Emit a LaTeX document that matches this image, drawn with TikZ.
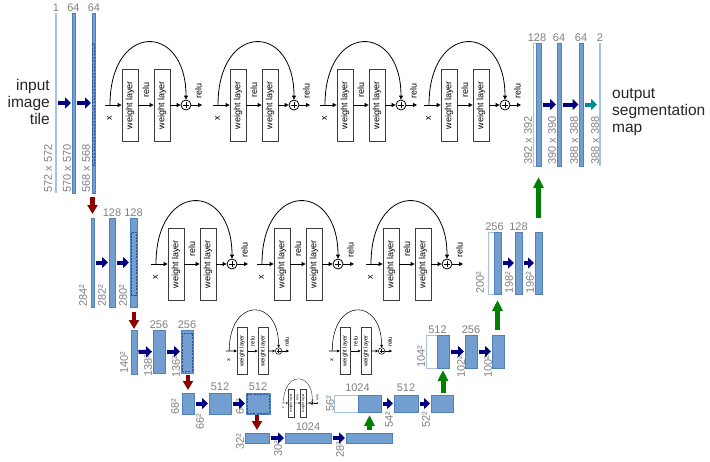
\documentclass[tikz,border=0pt]{standalone}
\usepackage{fontspec}
\setmainfont{Liberation Sans}
\usetikzlibrary{arrows.meta,calc}
\definecolor{barblue}{RGB}{114,159,207}
\definecolor{barline}{RGB}{79,129,189}
\definecolor{lightbar}{RGB}{165,193,228}
\definecolor{dashblue}{RGB}{40,80,150}
\definecolor{navyarr}{RGB}{0,0,128}
\definecolor{redarr}{RGB}{140,0,0}
\definecolor{greenarr}{RGB}{0,128,0}
\definecolor{tealarr}{RGB}{0,140,140}
\definecolor{lblgray}{RGB}{128,128,128}
\definecolor{boxline}{RGB}{60,60,60}
\tikzset{
 fmbar/.style={draw=barline, fill=barblue, line width=0.6pt, inner sep=0, outer sep=0, rectangle},
 fmwhite/.style={draw=lightbar, fill=white, line width=0.8pt, inner sep=0, outer sep=0, rectangle},
 fmthin/.style={draw=none, fill=lightbar, inner sep=0, outer sep=0, rectangle},
 fmdash/.style={draw=dashblue, dash pattern=on 2pt off 1.2pt, line width=1pt, inner sep=0, outer sep=0, rectangle},
 harr/.style={navyarr, line width=4pt, -{Triangle[length=6pt,width=11pt]}, shorten <=1.5pt, shorten >=1pt},
 tarr/.style={tealarr, line width=4pt, -{Triangle[length=6pt,width=11pt]}, shorten <=1.5pt, shorten >=2pt},
 darr/.style={redarr, line width=4.5pt, -{Triangle[length=9pt,width=10pt]}},
 garr/.style={greenarr, line width=5pt, -{Triangle[length=11pt,width=10pt]}},
 numlbl/.style={text=lblgray, font=\fontsize{11}{12}\selectfont, inner sep=0},
 sidelbl/.style={numlbl, rotate=90, anchor=west},
 toplbl/.style={numlbl, anchor=base},
 bigtxt/.style={text=black!85, font=\fontsize{15.5}{17}\selectfont, inner sep=0},
}
\newcommand\fmap[6][fmbar]{%
 \pgfmathsetmacro\fmw{#5-#3}%
 \pgfmathsetmacro\fmh{#6-#4}%
 \node[#1, minimum width=\fmw pt, minimum height=\fmh pt] (#2) at ({(#3+#5)/2},{(#4+#6)/2}) {};}
\newcommand\resblk[4]{%
\begin{scope}[shift={(#2,#3)}, scale=#4, transform shape]
 \pgfmathsetmacro\rslw{0.8*#4}%
 \pgfmathsetmacro\rssh{2.2*#4}%
 \tikzset{
  rs/.style={draw=black, line width=\rslw pt, -{Triangle[length=4pt,width=4pt,scale=#4]}},
  rsp/.style={draw=black, line width=\rslw pt, shorten <=\rssh pt, shorten >=\rssh pt},
  wl/.style={draw=boxline, rectangle, rotate=90, minimum width=72pt, minimum height=16pt, inner sep=0, line width=\rslw pt, font=\fontsize{9}{10}\selectfont},
  plusc/.style={circle, draw=black, minimum size=10pt, inner sep=0, line width=\rslw pt},
  rl/.style={rotate=90, inner sep=0, font=\fontsize{9}{10}\selectfont}}
 \coordinate (#1i) at (-17,0);
 \coordinate (#1b) at (-12,0);
 \node[wl] (#1w1) at (8,0) {weight layer};
 \node[wl] (#1w2) at (40,0) {weight layer};
 \node[plusc] (#1p) at (64,0) {};
 \coordinate (#1o) at (80,0);
 \node[rl] (#1r1) at (24,-15) {relu};
 \node[rl] (#1r2) at (76.5,-14) {relu};
 \node[rl] (#1x) at (-12.5,13.5) {x};
 \draw[rs] (#1i) -- (#1w1);
 \draw[rs] (#1w1) -- (#1w2);
 \draw[rs] (#1w2) -- (#1p);
 \draw[rs] (#1p) -- (#1o);
 \draw[rs] (#1b) .. controls (-12,-83) and (64,-83) .. (#1p.north);
 \draw[rsp] (#1p.north) -- (#1p.south);
 \draw[rsp] (#1p.west) -- (#1p.east);
\end{scope}}
\begin{document}
\begin{tikzpicture}[x=1pt,y=-1pt]
\useasboundingbox (0,0) rectangle (710,461);
% ---------- texts
\node[bigtxt, align=right, anchor=east] (inp) at (50,102) {input\\image\\tile};
\node[bigtxt, align=left, anchor=west] (outp) at (612,112) {output\\segmentation\\map};
% ---------- top left
\fmap[fmthin]{t1}{54.5}{13}{56.5}{193}
\fmap{t2}{72}{13}{75.5}{193}
\fmap{t3}{92}{13}{95.5}{193}
\fmap[fmdash]{t3d}{92.6}{43}{94.9}{165}
\node[toplbl] (nt1) at (56,11) {1};
\node[toplbl] (nt2) at (73.5,11) {64};
\node[toplbl] (nt3) at (94,11) {64};
\node[sidelbl] (st1) at (48,193) {572 x 572};
\node[sidelbl] (st2) at (67,193) {570 x 570};
\node[sidelbl] (st3) at (86,193) {568 x 568};
\draw[harr] (t1) -- (t2);
\draw[harr] (t2) -- (t3);
% ---------- top right
\fmap[fmwhite]{o1w}{533}{43}{536}{166}
\fmap{o1}{536}{43}{541}{166}
\fmap{o2}{557}{43}{561}{166}
\fmap{o3}{579.5}{43}{583}{166}
\fmap[fmthin]{o4}{599}{43}{601}{166}
\node[toplbl] (no1) at (537,41) {128};
\node[toplbl] (no2) at (559,41) {64};
\node[toplbl] (no3) at (581,41) {64};
\node[toplbl] (no4) at (600,41) {2};
\node[sidelbl] (so1) at (528,165) {392 x 392};
\node[sidelbl] (so2) at (552,165) {390 x 390};
\node[sidelbl] (so3) at (574,165) {388 x 388};
\node[sidelbl] (so4) at (595,165) {388 x 388};
\draw[harr] (o1) -- (o2);
\draw[harr] (o2) -- (o3);
\draw[tarr] (o3) -- (o4);
% ---------- row 2 left
\fmap{a1}{91}{218}{94}{307}
\fmap{a2}{109}{218}{115}{307}
\fmap{a3}{130}{218}{137}{307}
\fmap[fmdash]{a3d}{131}{232}{136}{295}
\node[toplbl] (na2) at (112,216) {128};
\node[toplbl] (na3) at (133.5,216) {128};
\node[sidelbl] (sa1) at (83,307) {284²};
\node[sidelbl] (sa2) at (102,307) {282²};
\node[sidelbl] (sa3) at (123,307) {280²};
\draw[harr] (a1) -- (a2);
\draw[harr] (a2) -- (a3);
% ---------- row 2 right
\fmap[fmwhite]{b1w}{488}{232}{494}{294}
\fmap{b1}{494}{232}{501}{294}
\fmap{b2}{515}{232}{522}{294}
\fmap{b3}{535}{232}{542}{294}
\node[toplbl] (nb1) at (494.5,230) {256};
\node[toplbl] (nb2) at (518.5,230) {128};
\node[sidelbl] (sb1) at (480,294) {200²};
\node[sidelbl] (sb2) at (509,294) {198²};
\node[sidelbl] (sb3) at (530,294) {196²};
\draw[harr] (b1) -- (b2);
\draw[harr] (b2) -- (b3);
% ---------- row 3 left
\fmap{c1}{131}{330}{137}{374}
\fmap{c2}{153}{330}{165}{373}
\fmap{c3}{181}{330}{193}{373}
\fmap[fmdash]{c3d}{182}{333}{192}{371}
\node[toplbl] (nc2) at (159,328) {256};
\node[toplbl] (nc3) at (187,328) {256};
\node[sidelbl] (sc1) at (124,374) {140²};
\node[sidelbl] (sc2) at (148,377) {138²};
\node[sidelbl] (sc3) at (176,378) {136²};
\draw[harr] (c1) -- (c2);
\draw[harr] (c2) -- (c3);
% ---------- row 4 left
\fmap{d1}{182}{393}{194}{414}
\fmap{d2}{209}{393}{231}{414}
\fmap{d3}{246}{393}{270}{414}
\fmap[fmdash]{d3d}{247}{394}{269}{413}
\node[toplbl] (nd2) at (220,390) {512};
\node[toplbl] (nd3) at (258,390) {512};
\node[sidelbl] (sd1) at (175,415) {68²};
\node[sidelbl] (sd2) at (200,430) {66²};
\node[sidelbl] (sd3) at (240,415) {64²};
\draw[harr] (d1) -- (d2);
\draw[harr] (d2) -- (d3);
% ---------- row 5
\fmap{e1}{245}{433}{269}{443}
\fmap{e2}{285}{433}{331}{443}
\fmap{e3}{346}{433}{392}{443}
\node[toplbl] (ne2) at (308,430) {1024};
\node[sidelbl] (se1) at (240,450) {32²};
\node[sidelbl] (se2) at (278,457) {30²};
\node[sidelbl] (se3) at (340,458) {28²};
\draw[harr] (e1) -- (e2);
\draw[harr] (e2) -- (e3);
% ---------- row 4 right
\fmap[fmwhite]{f1w}{334}{395}{358}{412}
\fmap{f1}{358}{395}{381}{412}
\fmap{f2}{394}{395}{418}{412}
\fmap{f3}{431}{395}{453}{412}
\node[toplbl] (nf1) at (357.5,391) {1024};
\node[toplbl] (nf2) at (406,391) {512};
\node[sidelbl] (sf1) at (330,412) {56²};
\node[sidelbl] (sf2) at (389,428) {54²};
\node[sidelbl] (sf3) at (426,428) {52²};
\draw[harr] (f1) -- (f2);
\draw[harr] (f2) -- (f3);
% ---------- row 3 right
\fmap[fmwhite]{g1w}{426}{335}{437}{368}
\fmap{g1}{437}{335}{449}{368}
\fmap{g2}{465}{335}{477}{368}
\fmap{g3}{492}{335}{504}{368}
\node[toplbl] (ng1) at (437.5,333) {512};
\node[toplbl] (ng2) at (471,333) {256};
\node[sidelbl] (sg1) at (421,368) {104²};
\node[sidelbl] (sg2) at (461,378) {102²};
\node[sidelbl] (sg3) at (488,378) {100²};
\draw[harr] (g1) -- (g2);
\draw[harr] (g2) -- (g3);
% ---------- down arrows
\draw[darr, shorten <=4pt, shorten >=4pt] (a1.north |- t3.south) -- (a1.north);
\draw[darr, shorten <=5pt, shorten >=1pt] (c1.north |- a3.south) -- (c1.north);
\draw[darr, shorten <=2pt, shorten >=3pt] (d1.north |- c3.south) -- (d1.north);
\draw[darr, shorten <=1pt, shorten >=3pt] (e1.north |- d3.south) -- (e1.north);
% ---------- up arrows
\draw[garr, shorten <=3pt, shorten >=3pt] (f1.south |- e3.north) -- (f1.south);
\draw[garr, shorten <=2pt, shorten >=2pt] (g1.south |- f3.north) -- (g1.south);
\draw[garr, shorten <=5pt, shorten >=6pt] (b1.south |- g3.north) -- (b1.south);
\draw[garr, shorten <=14pt, shorten >=11pt] (o1.south |- b3.north) -- (o1.south);
% ---------- residual blocks
\resblk{A}{122}{105}{1}
\resblk{B}{230}{105}{1}
\resblk{C}{337}{105}{1}
\resblk{D}{441}{105}{1}
\resblk{E}{168}{264}{1}
\resblk{F}{274}{264}{1}
\resblk{G}{383}{264}{1}
\resblk{H}{237}{351}{0.65}
\resblk{I}{340}{351}{0.65}
\resblk{J}{288}{403}{0.38}
\end{tikzpicture}
\end{document}
